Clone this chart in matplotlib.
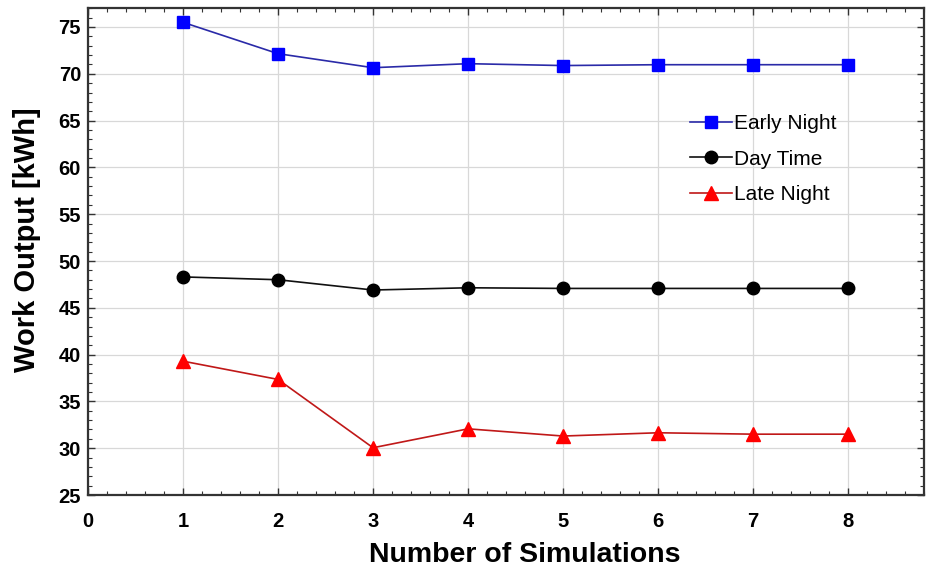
import matplotlib
matplotlib.use("Agg")
import matplotlib.pyplot as plt
from matplotlib.ticker import MultipleLocator

simulations = [1, 2, 3, 4, 5, 6, 7, 8]
early_night = [75.5, 72.15, 70.65, 71.08, 70.88, 70.97, 70.97, 70.97]
day_time = [48.3, 48.0, 46.9, 47.14, 47.07, 47.07, 47.07, 47.07]
late_night = [39.3, 37.35, 30.05, 32.07, 31.3, 31.65, 31.5, 31.5]

x_ticks = [0, 1, 2, 3, 4, 5, 6, 7, 8]
y_ticks = [25, 30, 35, 40, 45, 50, 55, 60, 65, 70, 75]

plt.rcParams['font.family'] = ['Liberation Sans', 'DejaVu Sans']

fig = plt.figure(figsize=(9.26, 5.74), dpi=100)
ax = fig.add_axes([0.095, 0.1376, 0.903, 0.848])

ax.plot(simulations, early_night, color='#2a2aa8', lw=1.2, marker='s', ms=9,
        mfc='#0000ff', mec='#0000ff', label='Early Night', zorder=3)
ax.plot(simulations, day_time, color='#101010', lw=1.2, marker='o', ms=9,
        mfc='#000000', mec='#000000', label='Day Time', zorder=3)
ax.plot(simulations, late_night, color='#c01818', lw=1.2, marker='^', ms=9.5,
        mfc='#ff0000', mec='#ff0000', label='Late Night', zorder=3)

ax.set_xlim(0, 8.8)
ax.set_ylim(25, 77)
ax.set_xticks(x_ticks)
ax.set_yticks(y_ticks)
ax.xaxis.set_minor_locator(MultipleLocator(0.2))
ax.yaxis.set_minor_locator(MultipleLocator(1))
ax.tick_params(which='both', direction='in', top=True, right=True, colors='#333333',
               labelcolor='black')
ax.tick_params(which='major', length=5, width=1, labelsize=14.5)
ax.tick_params(axis='x', which='major', pad=12)
ax.tick_params(axis='y', which='major', pad=5)
ax.tick_params(which='minor', length=3, width=0.8)
for lab in ax.get_xticklabels() + ax.get_yticklabels():
    lab.set_fontweight('bold')

ax.grid(True, which='major', color='#d8d8d8', lw=0.9)
ax.set_axisbelow(True)
for s in ax.spines.values():
    s.set_color('#333333')
    s.set_linewidth(1.6)

ax.set_xlabel('Number of Simulations', fontsize=20.5, fontweight='bold')
ax.set_ylabel('Work Output [kWh]', fontsize=21, fontweight='bold')
ax.xaxis.set_label_coords((525 - 88) / (924 - 88), -(555 - 495) / 487)
ax.yaxis.set_label_coords(-(88 - 27) / 836, (495 - 240) / 487)
ax.xaxis.label.set_va('center')
ax.yaxis.label.set_va('center')

leg = ax.legend(loc='upper left', bbox_to_anchor=(690/926, 1 - 114/574),
                bbox_transform=fig.transFigure, frameon=False, fontsize=15,
                handlelength=2.0, handletextpad=0.1, labelspacing=0.8,
                borderpad=0, borderaxespad=0)

fig.savefig('out.png', dpi=100)
